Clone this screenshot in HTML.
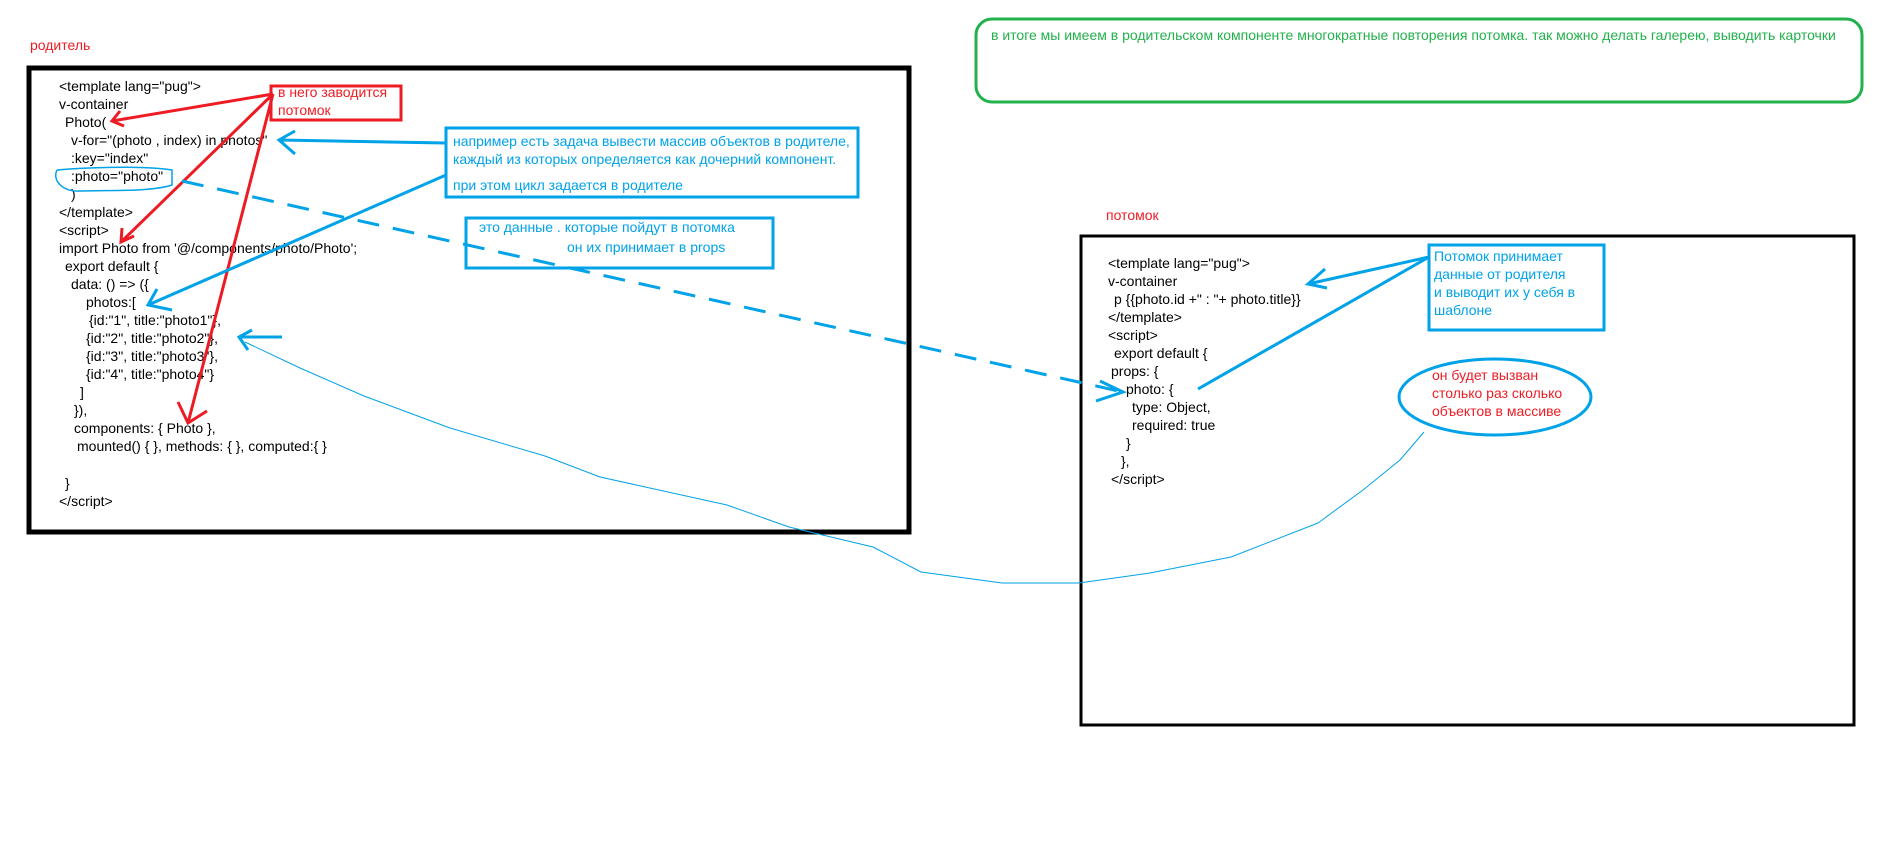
<!DOCTYPE html>
<html><head><meta charset="utf-8"><style>
html,body{margin:0;padding:0;background:#fff;}
svg{display:block;}
text{font-family:"Liberation Sans","DejaVu Sans",sans-serif;font-size:14px;}
.k{fill:#000;}
.b{fill:#00a2e8;}
.r{fill:#ed1c24;}
.g{fill:#22b14c;}
</style></head><body>
<svg width="1894" height="845" viewBox="0 0 1894 845" xmlns="http://www.w3.org/2000/svg">
<rect x="0" y="0" width="1894" height="845" fill="#fff"/>
<text x="30" y="50" class="r">родитель</text>
<rect x="29" y="68" width="880" height="464" fill="none" stroke="#000" stroke-width="5"/>
<g class="k">
<text x="59" y="91">&lt;template lang="pug"&gt;</text>
<text x="59" y="109">v-container</text>
<text x="65" y="127">Photo(</text>
<text x="71" y="145">v-for="(photo , index) in photos"</text>
<text x="71" y="163">:key="index"</text>
<text x="71" y="181">:photo="photo"</text>
<text x="71" y="199">)</text>
<text x="59" y="217">&lt;/template&gt;</text>
<text x="59" y="235">&lt;script&gt;</text>
<text x="59" y="253">import Photo from '@/components/photo/Photo';</text>
<text x="65" y="271">export default {</text>
<text x="71" y="289">data: () =&gt; ({</text>
<text x="86" y="307">photos:[</text>
<text x="89" y="325">{id:"1", title:"photo1"},</text>
<text x="86" y="343">{id:"2", title:"photo2"},</text>
<text x="86" y="361">{id:"3", title:"photo3"},</text>
<text x="86" y="379">{id:"4", title:"photo4"}</text>
<text x="80" y="397">]</text>
<text x="74" y="415">}),</text>
<text x="74" y="433">components: { Photo   },</text>
<text x="77" y="451">mounted() {     },  methods: {     },  computed:{     }</text>
<text x="65" y="488">}</text>
<text x="59" y="506">&lt;/script&gt;</text>
</g>
<rect x="271" y="86" width="130" height="34" fill="none" stroke="#ed1c24" stroke-width="3"/>
<text x="278" y="97" class="r">в него заводится</text>
<text x="278" y="115" class="r">потомок</text>
<rect x="446" y="128" width="412" height="69" fill="none" stroke="#00a2e8" stroke-width="3"/>
<text x="453" y="146" class="b">например есть задача вывести массив объектов в родителе,</text>
<text x="453" y="164" class="b">каждый из которых определяется как дочерний компонент.</text>
<text x="453" y="190" class="b">при этом цикл задается в родителе</text>
<rect x="466" y="218" width="307" height="50" fill="none" stroke="#00a2e8" stroke-width="3"/>
<text x="479" y="232" class="b">это данные . которые пойдут в потомка</text>
<text x="567" y="252" class="b">он их принимает в props</text>
<rect x="976" y="19" width="886" height="83" rx="16" fill="none" stroke="#22b14c" stroke-width="3"/>
<text x="991" y="40" class="g">в итоге мы имеем в родительском компоненте многократные повторения потомка. так можно делать галерею, выводить карточки</text>
<text x="1106" y="220" class="r">потомок</text>
<rect x="1081" y="236" width="773" height="489" fill="none" stroke="#000" stroke-width="3"/>
<g class="k">
<text x="1108" y="268">&lt;template lang="pug"&gt;</text>
<text x="1108" y="286">v-container</text>
<text x="1114" y="304">p {{photo.id +" : "+ photo.title}}</text>
<text x="1108" y="322">&lt;/template&gt;</text>
<text x="1108" y="340">&lt;script&gt;</text>
<text x="1114" y="358">export default {</text>
<text x="1111" y="376">props: {</text>
<text x="1126" y="394">photo: {</text>
<text x="1132" y="412">type: Object,</text>
<text x="1132" y="430">required: true</text>
<text x="1126" y="448">}</text>
<text x="1121" y="466">},</text>
<text x="1111" y="484">&lt;/script&gt;</text>
</g>
<rect x="1429" y="245" width="175" height="85" fill="none" stroke="#00a2e8" stroke-width="3"/>
<text x="1434" y="261" class="b">Потомок принимает</text>
<text x="1434" y="279" class="b">данные от родителя</text>
<text x="1434" y="297" class="b">и выводит их у себя в</text>
<text x="1434" y="315" class="b">шаблоне</text>
<ellipse cx="1495" cy="397" rx="96" ry="38" fill="none" stroke="#00a2e8" stroke-width="3"/>
<text x="1432" y="380" class="r">он будет вызван</text>
<text x="1432" y="398" class="r">столько раз сколько</text>
<text x="1432" y="416" class="r">объектов в массиве</text>
<g stroke="#ed1c24" stroke-width="3" fill="none">
<line x1="273" y1="94" x2="112" y2="121"/>
<polyline points="120,111 112,121 124,126"/>
<line x1="273" y1="94" x2="121" y2="242"/>
<polyline points="122,228 121,242 134,236"/>
<line x1="273" y1="94" x2="188" y2="423"/>
<polyline points="178,402 188,423 207,411"/>
</g>
<g stroke="#00a2e8" stroke-width="3" fill="none">
<line x1="446" y1="143" x2="279" y2="140"/>
<polyline points="295,131 279,140 295,154"/>
<line x1="446" y1="175" x2="148" y2="305"/>
<polyline points="157,289 148,305 172,310"/>
<line x1="282" y1="337" x2="239" y2="337"/>
<polyline points="252,330 239,337 248,350"/>
<line x1="182" y1="181" x2="1123" y2="392" stroke-dasharray="22,14"/>
<polyline points="1100,381 1123,392 1096,401"/>
<line x1="1429" y1="257" x2="1308" y2="284"/>
<polyline points="1325,269 1308,284 1327,288"/>
<line x1="1429" y1="257" x2="1198" y2="389"/>
</g>
<path d="M57,170 C52,180 62,192 80,191 C110,190 150,192 172,185 L172,170 C140,165 80,168 57,170" fill="none" stroke="#00a2e8" stroke-width="1.5"/>
<polyline points="245,342 300,368 364,396 450,428 545,456 600,477 727,505 789,527 873,547 921,572 1002,583 1079,583 1150,573 1231,557 1318,523 1363,490 1400,460 1424,432" fill="none" stroke="#00a2e8" stroke-width="1" stroke-linejoin="round"/>
</svg>
</body></html>
